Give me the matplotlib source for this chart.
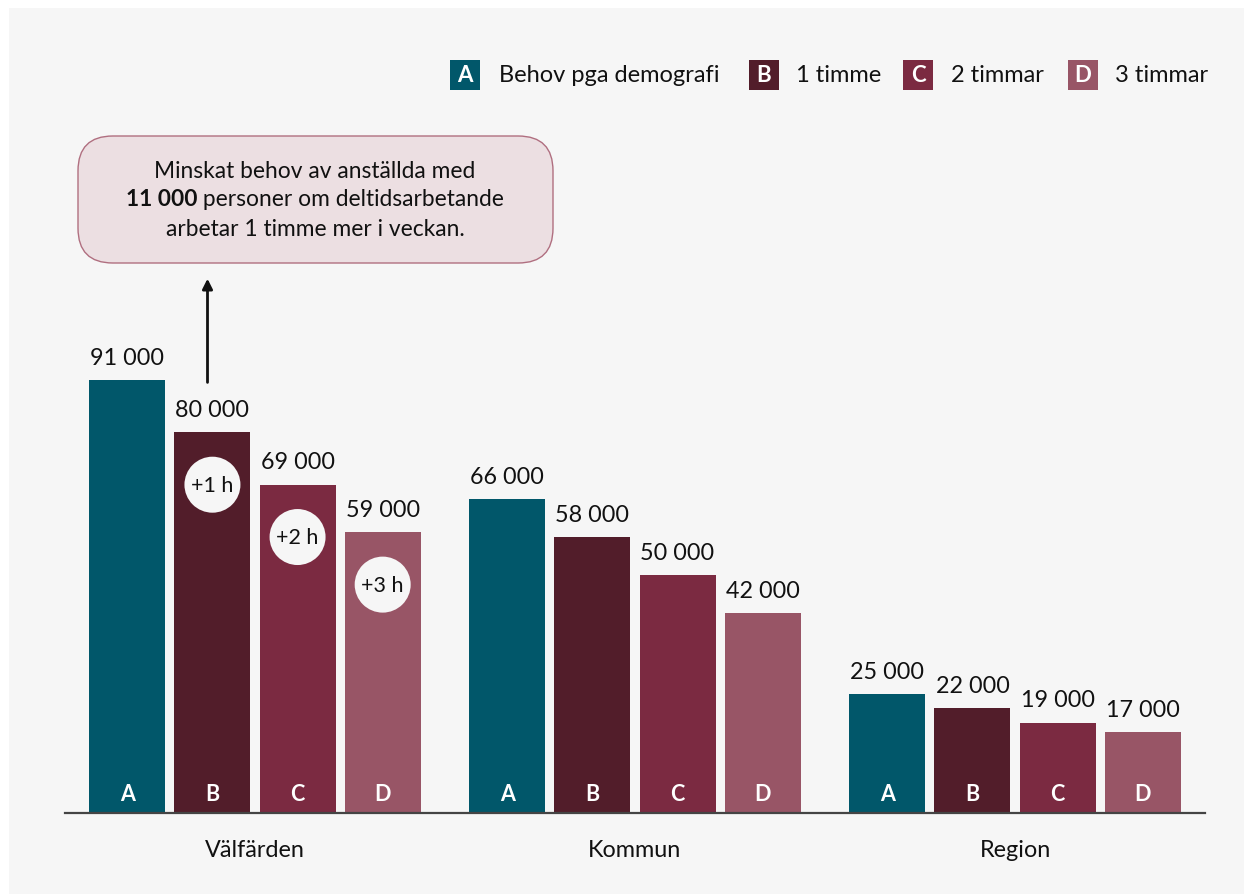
import matplotlib
matplotlib.use("Agg")
import matplotlib.pyplot as plt
from matplotlib.patches import FancyBboxPatch, Rectangle

plt.rcParams['font.family'] = ['Lato', 'DejaVu Sans']

W, H, DPI = 1244, 895, 100

categories = ["Välfärden", "Kommun", "Region"]
series_keys = ["A", "B", "C", "D"]
series_names = ["Behov pga demografi", "1 timme", "2 timmar", "3 timmar"]
colors = ["#01576a", "#521d2a", "#7b2a41", "#985566"]
# values in thousands, one list per series (A..D) across categories
values = [
    [91, 66, 25],
    [80, 58, 22],
    [69, 50, 19],
    [59, 42, 17],
]
hour_badges = ["+1 h", "+2 h", "+3 h"]
note_lines = ["Minskat behov av anställda med",
              ("11 000", " personer om deltidsarbetande"),
              "arbetar 1 timme mer i veckan."]

bg = "#f6f6f6"
txt = "#111111"

fig = plt.figure(figsize=(W / DPI, H / DPI), dpi=DPI, facecolor="white")
fig.patches.append(Rectangle((9 / W, 0), 1, 1 - 9 / H, transform=fig.transFigure,
                             facecolor=bg, edgecolor="none", zorder=-10))

ax = fig.add_axes([65 / W, 81 / H, 1140 / W, 805 / H])
ax.set_facecolor("none")
px_per_unit = 4.758
ax.set_ylim(0, 805 / px_per_unit)
ax.set_xlim(-0.5, 2.5)
for s in ["top", "right", "left"]:
    ax.spines[s].set_visible(False)
ax.spines["bottom"].set_color("#444444")
ax.spines["bottom"].set_linewidth(1.6)
ax.set_yticks([])
ax.set_xticks(range(len(categories)))
ax.set_xticklabels(categories, fontsize=16.8, color=txt)
ax.tick_params(axis="x", length=0, pad=19)

step = 0.224
width = 0.2
offsets = [(-1.5 + i) * step for i in range(4)]

for si, (key, vals, col) in enumerate(zip(series_keys, values, colors)):
    for ci, v in enumerate(vals):
        x = ci + offsets[si]
        ax.bar(x, v, width=width, color=col, edgecolor="none", zorder=2)
        ax.text(x, v + 2.6, f"{v} 000", ha="center", va="bottom",
                fontsize=16.8, color=txt)
        ax.text(x, 4.2, key, ha="center", va="center", fontsize=15.5,
                fontweight="bold", color="white", zorder=3)

# hour badges on the first group
for si, label in enumerate(hour_badges, start=1):
    x = offsets[si]
    yv = values[si][0] - 11
    ax.scatter([x], [yv], s=(56 * 72 / DPI) ** 2, color=bg, edgecolors="none", zorder=3)
    ax.text(x, yv, label, ha="center", va="center", fontsize=15.5, color=txt, zorder=4)

# arrow towards the note box
ax.annotate("", xy=(offsets[1] - 0.013, 112.3), xytext=(offsets[1] - 0.013, values[0][0] - 0.5),
            arrowprops=dict(arrowstyle="-|>,head_length=0.6,head_width=0.3",
                            color="#111111", lw=2, shrinkA=0, shrinkB=0),
            annotation_clip=False)

# note box
box = FancyBboxPatch((78 / W, 1 - 264 / H), (553 - 78) / W, (264 - 137) / H,
                     boxstyle="round,pad=0,rounding_size=0.028",
                     transform=fig.transFigure, facecolor="#ecdfe2",
                     edgecolor="#b06f80", linewidth=1.0, mutation_aspect=W / H)
fig.patches.append(box)
cx = 315 / W
ys = [171, 200, 229]
fs_note = 16.4
fig.text(cx, 1 - ys[0] / H, note_lines[0], ha="center", va="center", fontsize=fs_note, color=txt)
fig.text(cx, 1 - ys[2] / H, note_lines[2], ha="center", va="center", fontsize=fs_note, color=txt)

renderer = fig.canvas.get_renderer()
t_bold = fig.text(0, 1 - ys[1] / H, note_lines[1][0], ha="left", va="center",
                  fontsize=fs_note, fontweight="bold", color=txt)
t_reg = fig.text(0, 1 - ys[1] / H, note_lines[1][1], ha="left", va="center",
                 fontsize=fs_note, color=txt)
wb = t_bold.get_window_extent(renderer).width
wr = t_reg.get_window_extent(renderer).width
x0 = cx * W - (wb + wr) / 2
t_bold.set_x(x0 / W)
t_reg.set_x((x0 + wb) / W)

# legend
leg_sq = [450, 749, 903, 1068]
leg_tx = [499, 796, 951, 1115]
sq = 30
ly = 76
for key, name, col, sx, tx in zip(series_keys, series_names, colors, leg_sq, leg_tx):
    fig.patches.append(Rectangle((sx / W, 1 - (ly + sq / 2) / H), sq / W, sq / H,
                                 transform=fig.transFigure, facecolor=col, edgecolor="none"))
    fig.text((sx + sq / 2) / W, 1 - ly / H, key, ha="center", va="center",
             fontsize=16, fontweight="bold", color="white")
    fig.text(tx / W, 1 - ly / H, name, ha="left", va="center", fontsize=17, color=txt)

fig.savefig("out.png", dpi=DPI, facecolor="white")
